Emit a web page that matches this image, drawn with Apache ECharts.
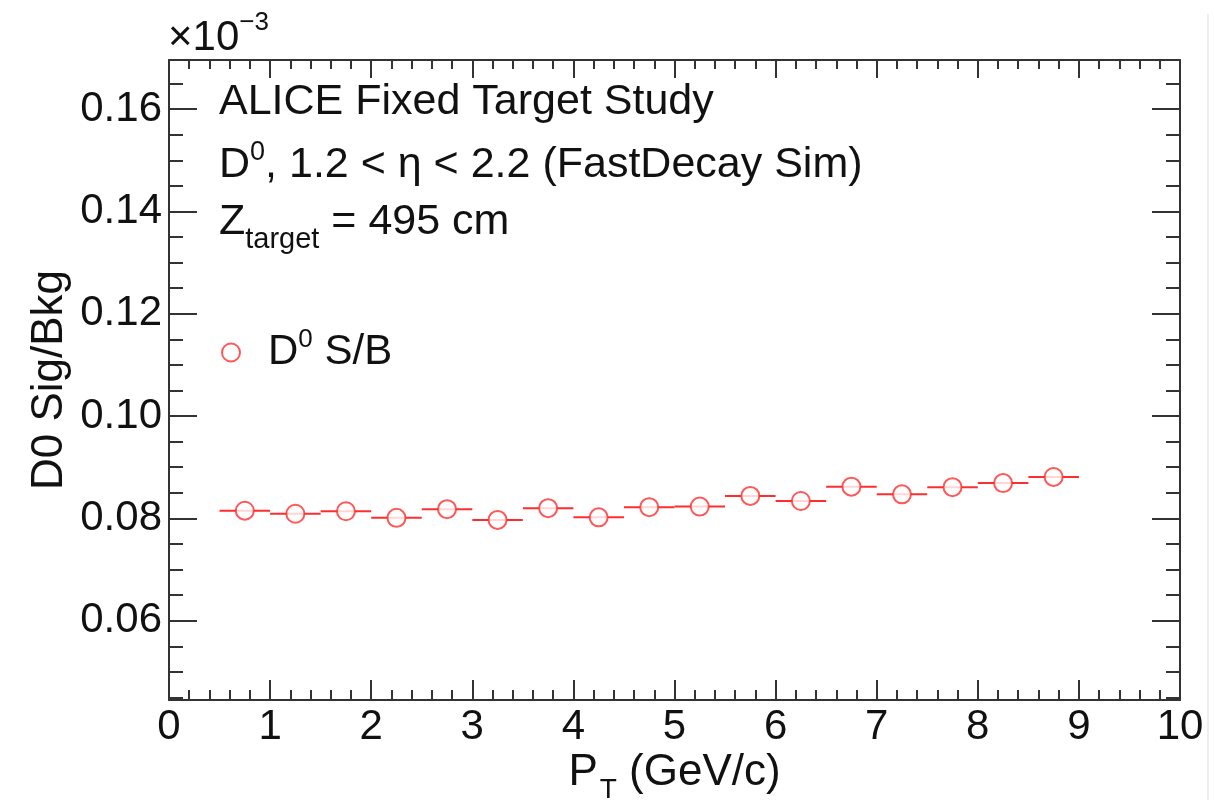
<!DOCTYPE html>
<html>
<head>
<meta charset="utf-8">
<script src="https://cdn.jsdelivr.net/npm/echarts@6/dist/echarts.min.js"></script>
<style>
html,body{margin:0;padding:0;background:#fff;}
#c{width:1214px;height:800px;}
</style>
</head>
<body>
<div id="c"></div>
<script>
// ---- data ----
const ptCenters = [0.75,1.25,1.75,2.25,2.75,3.25,3.75,4.25,4.75,5.25,5.75,6.25,6.75,7.25,7.75,8.25,8.75];
const ptHalfWidth = [0.25,0.25,0.25,0.25,0.25,0.25,0.25,0.25,0.25,0.25,0.25,0.25,0.25,0.25,0.25,0.25,0.25];
const sbValues = [0.0815,0.0809,0.0814,0.0801,0.0818,0.0797,0.0820,0.0802,0.0822,0.0823,0.0844,0.0834,0.0862,0.0847,0.0861,0.0869,0.0881];
const yMajorTicks = [0.06,0.08,0.10,0.12,0.14,0.16];
const yMinorTicks = [0.045,0.05,0.055,0.065,0.07,0.075,0.085,0.09,0.095,0.105,0.11,0.115,0.125,0.13,0.135,0.145,0.15,0.155,0.165];
const yRange = [0.0445,0.1696];
const xRange = [0,10];

const RED = '#ff2e2e';
const AX = '#333';
const TXT = '#111';
const FONT = '"Liberation Sans", Arial, Helvetica, sans-serif';

const chart = echarts.init(document.getElementById('c'));
const pts = ptCenters.map((x,i)=>[x, sbValues[i], ptHalfWidth[i]]);

const axLine = {show:true, lineStyle:{color:AX, width:2}};
const mk = (fs)=>({fontSize:fs, fontFamily:FONT, color:TXT, lineHeight:50, fontWeight:'normal'});

const option = {
  backgroundColor:'#fff',
  animation:false,
  grid:{left:169, right:34, top:60, bottom:100, containLabel:false, outerBoundsMode:'none'},
  title:[
    {left:168, top:13, padding:0, text:'{n|×10}{s|−3}',
      textStyle:{fontWeight:'normal', rich:{n:mk(42), s:Object.assign(mk(26),{padding:[0,0,31,0]})}}},
    {left:219, top:77, padding:0, text:'{n|ALICE Fixed Target Study}',
      textStyle:{fontWeight:'normal', rich:{n:mk(43)}}},
    {left:219, top:140, padding:0, text:'{n|D}{s|0}{n|, 1.2 < η < 2.2 (FastDecay Sim)}',
      textStyle:{fontWeight:'normal', rich:{n:mk(43), s:Object.assign(mk(27),{padding:[0,0,25,0]})}}},
    {left:219, top:197, padding:0, text:'{n|Z}{b|target}{n| = 495 cm}',
      textStyle:{fontWeight:'normal', rich:{n:mk(43), b:Object.assign(mk(29),{padding:[36,0,0,0]})}}}
  ],
  legend:{
    left:221, top:327, padding:0, selectedMode:false,
    itemWidth:18, itemHeight:18,
    data:[{name:'D0 S/B', icon:'circle', itemStyle:{color:'#fff', borderColor:RED, borderWidth:2}}],
    formatter:()=> '{n|D}{s|0}{m| S/B}',
    textStyle:{rich:{
      n:Object.assign(mk(42),{padding:[0,0,0,23]}),
      s:Object.assign(mk(26),{padding:[0,0,25,0]}),
      m:mk(42)
    }}
  },
  xAxis:[
    {type:'value', position:'bottom', min:xRange[0], max:xRange[1], interval:1,
      axisLine:axLine,
      axisTick:{show:true, inside:true, length:20, lineStyle:{color:AX, width:2}},
      minorTick:{show:true, splitNumber:5, length:10, lineStyle:{color:AX, width:2}},
      splitLine:{show:false}, minorSplitLine:{show:false},
      axisLabel:{fontSize:42, fontFamily:FONT, color:TXT, margin:6},
      name:'{n|P}{b|T}{n| (GeV/c)}', nameLocation:'middle', nameGap:48, nameMoveOverlap:false,
      nameTextStyle:{rich:{n:mk(44), b:Object.assign(mk(28),{padding:[34,0,0,2]})}}
    },
    {type:'value', position:'top', min:xRange[0], max:xRange[1], interval:1,
      axisLine:axLine,
      axisTick:{show:true, inside:true, length:18, lineStyle:{color:AX, width:2}},
      minorTick:{show:true, splitNumber:5, length:9, lineStyle:{color:AX, width:2}},
      splitLine:{show:false}, axisLabel:{show:false}
    }
  ],
  yAxis:[
    {type:'value', position:'left', min:yRange[0], max:yRange[1],
      axisLine:axLine,
      axisTick:{show:true, inside:true, length:28, customValues:yMajorTicks, lineStyle:{color:AX, width:2}},
      splitLine:{show:false},
      axisLabel:{customValues:yMajorTicks, fontSize:42, fontFamily:FONT, color:TXT, margin:7,
        formatter:(v)=>v.toFixed(2)},
      name:'D0 Sig/Bkg', nameLocation:'middle', nameRotate:90, nameGap:97, nameMoveOverlap:false,
      nameTextStyle:{fontSize:44, fontFamily:FONT, color:TXT}
    },
    {type:'value', position:'left', min:yRange[0], max:yRange[1],
      axisLine:{show:false},
      axisTick:{show:true, inside:true, length:14, customValues:yMinorTicks, lineStyle:{color:AX, width:2}},
      splitLine:{show:false}, axisLabel:{show:false}
    },
    {type:'value', position:'right', min:yRange[0], max:yRange[1],
      axisLine:axLine,
      axisTick:{show:true, inside:true, length:28, customValues:yMajorTicks, lineStyle:{color:AX, width:2}},
      splitLine:{show:false}, axisLabel:{show:false}
    },
    {type:'value', position:'right', min:yRange[0], max:yRange[1],
      axisLine:{show:false},
      axisTick:{show:true, inside:true, length:14, customValues:yMinorTicks, lineStyle:{color:AX, width:2}},
      splitLine:{show:false}, axisLabel:{show:false}
    }
  ],
  graphic:[
    {type:'line', shape:{x1:1208, y1:14, x2:1208, y2:800}, style:{stroke:'#eeeeee', lineWidth:2}, silent:true}
  ],
  series:[
    {type:'custom', name:'err', xAxisIndex:0, yAxisIndex:0, z:2,
      data:pts,
      renderItem:(params, api)=>{
        const x = api.value(0), y = api.value(1), w = api.value(2);
        const p1 = api.coord([x-w, y]);
        const p2 = api.coord([x+w, y]);
        return {type:'line', shape:{x1:p1[0], y1:p1[1], x2:p2[0], y2:p2[1]},
          style:{stroke:RED, lineWidth:2}};
      },
      encode:{x:0, y:1}
    },
    {type:'scatter', name:'D0 S/B', xAxisIndex:0, yAxisIndex:0, z:3,
      data:pts.map(p=>[p[0],p[1]]),
      symbol:'emptyCircle', symbolSize:18,
      itemStyle:{color:RED, borderColor:RED, borderWidth:2}
    }
  ]
};
chart.setOption(option);
</script>
</body>
</html>
